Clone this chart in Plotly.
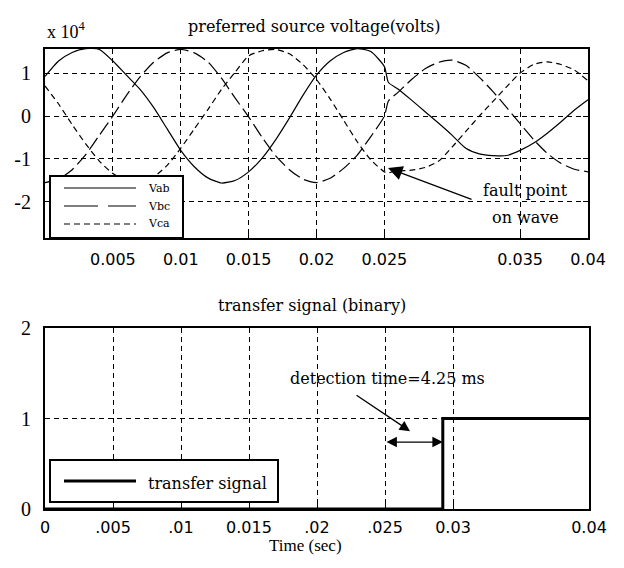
import plotly.graph_objects as go

# ---------------- data ----------------
# sample times (s)
TIME_S = [0.000, 0.001, 0.002, 0.003, 0.004, 0.005, 0.006, 0.007, 0.008, 0.009,
          0.010, 0.011, 0.012, 0.013, 0.014, 0.015, 0.016, 0.017, 0.018, 0.019,
          0.020, 0.021, 0.022, 0.023, 0.024, 0.025, 0.0253, 0.026, 0.027, 0.028,
          0.029, 0.030, 0.031, 0.032, 0.033, 0.034, 0.035, 0.036, 0.037, 0.038,
          0.039, 0.040]

# line voltages, in units of 1e4 V
VAB = [0.92, 1.28, 1.48, 1.57, 1.55, 1.28, 0.95, 0.62, 0.20, -0.30,
       -0.80, -1.18, -1.44, -1.56, -1.50, -1.30, -0.98, -0.55, -0.05, 0.48,
       0.95, 1.28, 1.48, 1.57, 1.50, 1.15, 0.78, 0.63, 0.37, 0.10,
       -0.17, -0.45, -0.75, -0.88, -0.92, -0.92, -0.80, -0.63, -0.40, -0.14,
       0.14, 0.38]
VBC = [-1.55, -1.47, -1.25, -0.90, -0.45, 0.00, 0.48, 0.91, 1.25, 1.47,
       1.55, 1.47, 1.26, 0.88, 0.42, -0.02, -0.50, -0.93, -1.25, -1.47,
       -1.55, -1.45, -1.22, -0.91, -0.48, 0.00, 0.35, 0.55, 0.85, 1.10,
       1.25, 1.30, 1.18, 0.90, 0.57, 0.20, -0.18, -0.55, -0.87, -1.10,
       -1.24, -1.30]
VCA = [0.70, 0.28, -0.20, -0.65, -1.05, -1.34, -1.50, -1.55, -1.42, -1.15,
       -0.75, -0.30, 0.15, 0.62, 1.02, 1.40, 1.52, 1.55, 1.45, 1.20,
       0.85, 0.40, -0.10, -0.60, -1.02, -1.30, -1.32, -1.28, -1.26, -1.20,
       -1.05, -0.72, -0.36, 0.00, 0.34, 0.68, 1.00, 1.20, 1.26, 1.20,
       1.07, 0.82]
SERIES_NAMES = ["Vab", "Vbc", "Vca"]

# transfer signal (binary)
TRANSFER_TIME = [0.0, 0.02925, 0.04]
TRANSFER_VAL = [0, 1, 1]

FAULT_TIME = 0.025
DETECT_TIME = 0.02925

TOP_XTICKS = [0.005, 0.01, 0.015, 0.02, 0.025, 0.035, 0.04]
TOP_XTICKTEXT = ["0.005", "0.01", "0.015", "0.02", "0.025", "0.035", "0.04"]
TOP_YTICKS = [1, 0, -1, -2]
TOP_YTICKTEXT = ["1", "0", "-1", "-2"]
BOT_XTICKS = [0, 0.005, 0.01, 0.015, 0.02, 0.025, 0.03, 0.04]
BOT_XTICKTEXT = ["0", ".005", ".01", "0.015", ".02", ".025", "0.03", "0.04"]
BOT_YTICKS = [0, 1, 2]
BOT_YTICKTEXT = ["0", "1", "2"]

# ---------------- layout helpers ----------------
W, H = 624, 568


def px(xp):
    return xp / W


def py(yp):
    return 1 - yp / H


SERIF = "DejaVu Serif"
TIMES = "Liberation Serif"
SANS = "DejaVu Sans"

DASHES = {"Vab": "solid", "Vbc": "14px,5px", "Vca": "6px,4px"}

fig = go.Figure()
for name, vals in zip(SERIES_NAMES, [VAB, VBC, VCA]):
    fig.add_trace(go.Scatter(
        x=TIME_S, y=vals, mode="lines", name=name, showlegend=False,
        line=dict(color="black", width=1.2, dash=DASHES[name], shape="spline", smoothing=0.6),
        xaxis="x", yaxis="y"))

fig.add_trace(go.Scatter(
    x=TRANSFER_TIME, y=TRANSFER_VAL, mode="lines", name="transfer signal", showlegend=False,
    line=dict(color="black", width=3, shape="hv"), xaxis="x2", yaxis="y2"))

axis_common = dict(
    showline=True, linecolor="black", linewidth=2, mirror="ticks",
    ticks="inside", ticklen=5, tickcolor="black", tickwidth=1,
    showgrid=True, gridcolor="black", gridwidth=1, griddash="5px,4px",
    zeroline=False, fixedrange=True, automargin=False,
)

fig.update_layout(
    template="none",
    width=W, height=H,
    margin=dict(l=0, r=0, t=0, b=0, pad=0),
    paper_bgcolor="white", plot_bgcolor="white",
    showlegend=False,
    xaxis=dict(axis_common, domain=[px(45), px(588)], range=[0, 0.04], anchor="y",
               tickmode="array", tickvals=TOP_XTICKS, ticktext=TOP_XTICKTEXT,
               tickfont=dict(family=SANS, size=16, color="black"), ticklabelstandoff=6),
    yaxis=dict(axis_common, domain=[py(238), py(49)], range=[-2.84, 1.56], anchor="x",
               tickmode="array", tickvals=TOP_YTICKS, ticktext=TOP_YTICKTEXT,
               tickfont=dict(family=TIMES, size=20, color="black"), ticklabelstandoff=8),
    xaxis2=dict(axis_common, domain=[px(45), px(589)], range=[0, 0.04], anchor="y2",
                tickmode="array", tickvals=BOT_XTICKS, ticktext=BOT_XTICKTEXT,
                tickfont=dict(family=SANS, size=16, color="black"), ticklabelstandoff=3),
    yaxis2=dict(axis_common, domain=[py(509), py(328)], range=[0, 2], anchor="x2",
                tickmode="array", tickvals=BOT_YTICKS, ticktext=BOT_YTICKTEXT,
                tickfont=dict(family=TIMES, size=20, color="black"), ticklabelstandoff=8),
)

shapes = []
annotations = []


def label(xp, yp, text, font, size, xanchor="center"):
    return dict(xref="paper", yref="paper", x=px(xp), y=py(yp), xanchor=xanchor,
                yanchor="middle", showarrow=False, text=text,
                font=dict(family=font, size=size, color="black"))


# ---- manual legend, top plot ----
shapes.append(dict(type="rect", xref="paper", yref="paper",
                   x0=px(50), x1=px(183), y0=py(238), y1=py(176),
                   line=dict(color="black", width=2), fillcolor="white", layer="above"))
for i, name in enumerate(SERIES_NAMES):
    yy = [188, 206, 224][i]
    shapes.append(dict(type="line", xref="paper", yref="paper",
                       x0=px(64), x1=px(136), y0=py(yy), y1=py(yy),
                       line=dict(color="black", width=1.2,
                                 dash=DASHES[name] if name != "Vbc" else "34px,10px")))
    annotations.append(label(146, yy, name, SERIF, 11, xanchor="left"))

# ---- manual legend, bottom plot ----
shapes.append(dict(type="rect", xref="paper", yref="paper",
                   x0=px(50), x1=px(278), y0=py(502), y1=py(460),
                   line=dict(color="black", width=2), fillcolor="white", layer="above"))
shapes.append(dict(type="line", xref="paper", yref="paper",
                   x0=px(64), x1=px(136), y0=py(481), y1=py(481),
                   line=dict(color="black", width=3)))
annotations.append(label(146, 483, "transfer signal", SERIF, 16, xanchor="left"))

# ---- titles and labels ----
annotations += [
    label(314, 27, "preferred source voltage(volts)", SERIF, 16),
    label(45, 30, "x 10<sup>4</sup>", TIMES, 18, xanchor="left"),
    label(312, 305, "transfer signal (binary)", SERIF, 16),
    label(305, 545, "Time (sec)", TIMES, 17),
]

# ---- fault point annotation ----
annotations += [
    label(525, 191, "fault point", SERIF, 16),
    label(525, 217, "on wave", SERIF, 16),
    dict(xref="x", yref="y", x=0.02527, y=-1.21, ax=85, ay=32, text="",
         showarrow=True, arrowhead=2, arrowsize=2.2, arrowwidth=1.3, arrowcolor="black"),
]

# ---- detection time annotation ----
annotations += [
    label(387, 378, "detection time=4.25 ms", SERIF, 16),
    dict(xref="x2", yref="y2", x=0.02684, y=0.86, ax=-55, ay=-37, text="",
         showarrow=True, arrowhead=2, arrowsize=1.6, arrowwidth=1.3, arrowcolor="black"),
    dict(xref="x2", yref="y2", x=DETECT_TIME, y=0.74, ax=FAULT_TIME, ay=0.74,
         axref="x2", ayref="y2", text="", showarrow=True, arrowside="end+start",
         arrowhead=2, startarrowhead=2, arrowsize=1.6, startarrowsize=1.6,
         arrowwidth=1.3, arrowcolor="black"),
]

fig.update_layout(shapes=shapes, annotations=annotations)
fig.write_html("out.html", config={"displayModeBar": False},
               post_script="document.body.style.margin='0px';")
